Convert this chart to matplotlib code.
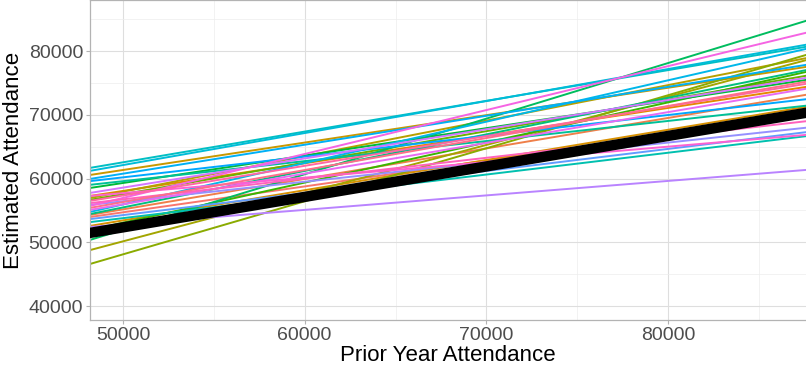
import numpy as np
import matplotlib
matplotlib.use("Agg")
import matplotlib.pyplot as plt
from matplotlib.ticker import MultipleLocator

plt.rcParams['font.family'] = ['Liberation Sans', 'DejaVu Sans']

# team-level fitted lines (estimated attendance = intercept + slope * prior attendance)
team_intercepts = [34397, 31258, 36349, 29725, 39835, 30089, 12342, 6502, 32844, 21618,
                   37796, 8349, 26812, 43828, 36681, 38439, 37009, 23482, 38057, 43880,
                   36960, 41074, 41459, 35668, 31851, 22505, 45555, 40429, 34030, 31206]
team_slopes = [0.406, 0.478, 0.434, 0.474, 0.430, 0.557, 0.756, 0.832, 0.494, 0.629,
               0.430, 0.872, 0.573, 0.315, 0.342, 0.482, 0.502, 0.649, 0.454, 0.326,
               0.346, 0.307, 0.227, 0.458, 0.482, 0.689, 0.243, 0.326, 0.466, 0.502]

# overall (fixed effect) line
fixed_intercept = 28435
fixed_slope = 0.478


def hue_pal(n, c=100, l=65, h0=15):
    # ggplot2-style hue palette (polar LUV -> sRGB)
    hues = np.linspace(h0, h0 + 360, n + 1)[:n]
    xn, yn, zn = 95.047, 100.0, 108.883
    un = 4 * xn / (xn + 15 * yn + 3 * zn)
    vn = 9 * yn / (xn + 15 * yn + 3 * zn)
    m = np.array([[3.2404542, -1.5371385, -0.4985314],
                  [-0.9692660, 1.8760108, 0.0415560],
                  [0.0556434, -0.2040259, 1.0572252]])
    out = []
    for h in hues:
        u = c * np.cos(np.radians(h))
        v = c * np.sin(np.radians(h))
        y = yn * ((l + 16) / 116) ** 3
        up = u / (13 * l) + un
        vp = v / (13 * l) + vn
        x = 9 * y * up / (4 * vp)
        z = y * (12 - 3 * up - 20 * vp) / (4 * vp)
        rgb = m @ (np.array([x, y, z]) / 100)
        rgb = np.where(rgb <= 0.0031308, 12.92 * rgb, 1.055 * np.clip(rgb, 0, None) ** (1 / 2.4) - 0.055)
        out.append(tuple(np.clip(rgb, 0, 1)))
    return out


colors = hue_pal(len(team_intercepts))

fig = plt.figure(figsize=(8.06, 3.72), dpi=100)
ax = fig.add_axes([90 / 806, 52 / 372, 1 - 90 / 806, 1 - 52 / 372])

for b, s, col in zip(team_intercepts, team_slopes, colors):
    ax.axline((0, b), slope=s, color=col, lw=1.4, zorder=2)
ax.axline((0, fixed_intercept), slope=fixed_slope, color='black', lw=7.5, zorder=3)

ax.set_xlim(48184, 87592)
ax.set_ylim(37804, 88000)
ax.xaxis.set_major_locator(MultipleLocator(10000))
ax.xaxis.set_minor_locator(MultipleLocator(5000))
ax.yaxis.set_major_locator(MultipleLocator(10000))
ax.yaxis.set_minor_locator(MultipleLocator(5000))
ax.grid(which='major', color='#DEDEDE', lw=0.8, zorder=0)
ax.grid(which='minor', color='#EDEDED', lw=0.5, zorder=0)
ax.set_axisbelow(True)

for side in ['left', 'bottom', 'top']:
    ax.spines[side].set_color('#B3B3B3')
    ax.spines[side].set_linewidth(0.9)
ax.spines['right'].set_visible(False)

ax.tick_params(which='major', length=3, width=0.8, color='#B3B3B3',
               labelsize=14, labelcolor='#4D4D4D', pad=2)
ax.tick_params(which='minor', length=0)

ax.set_xlabel('Prior Year Attendance', fontsize=16, labelpad=1)
ax.set_ylabel('Estimated Attendance', fontsize=16, labelpad=3)

fig.savefig('out.png', dpi=100)
